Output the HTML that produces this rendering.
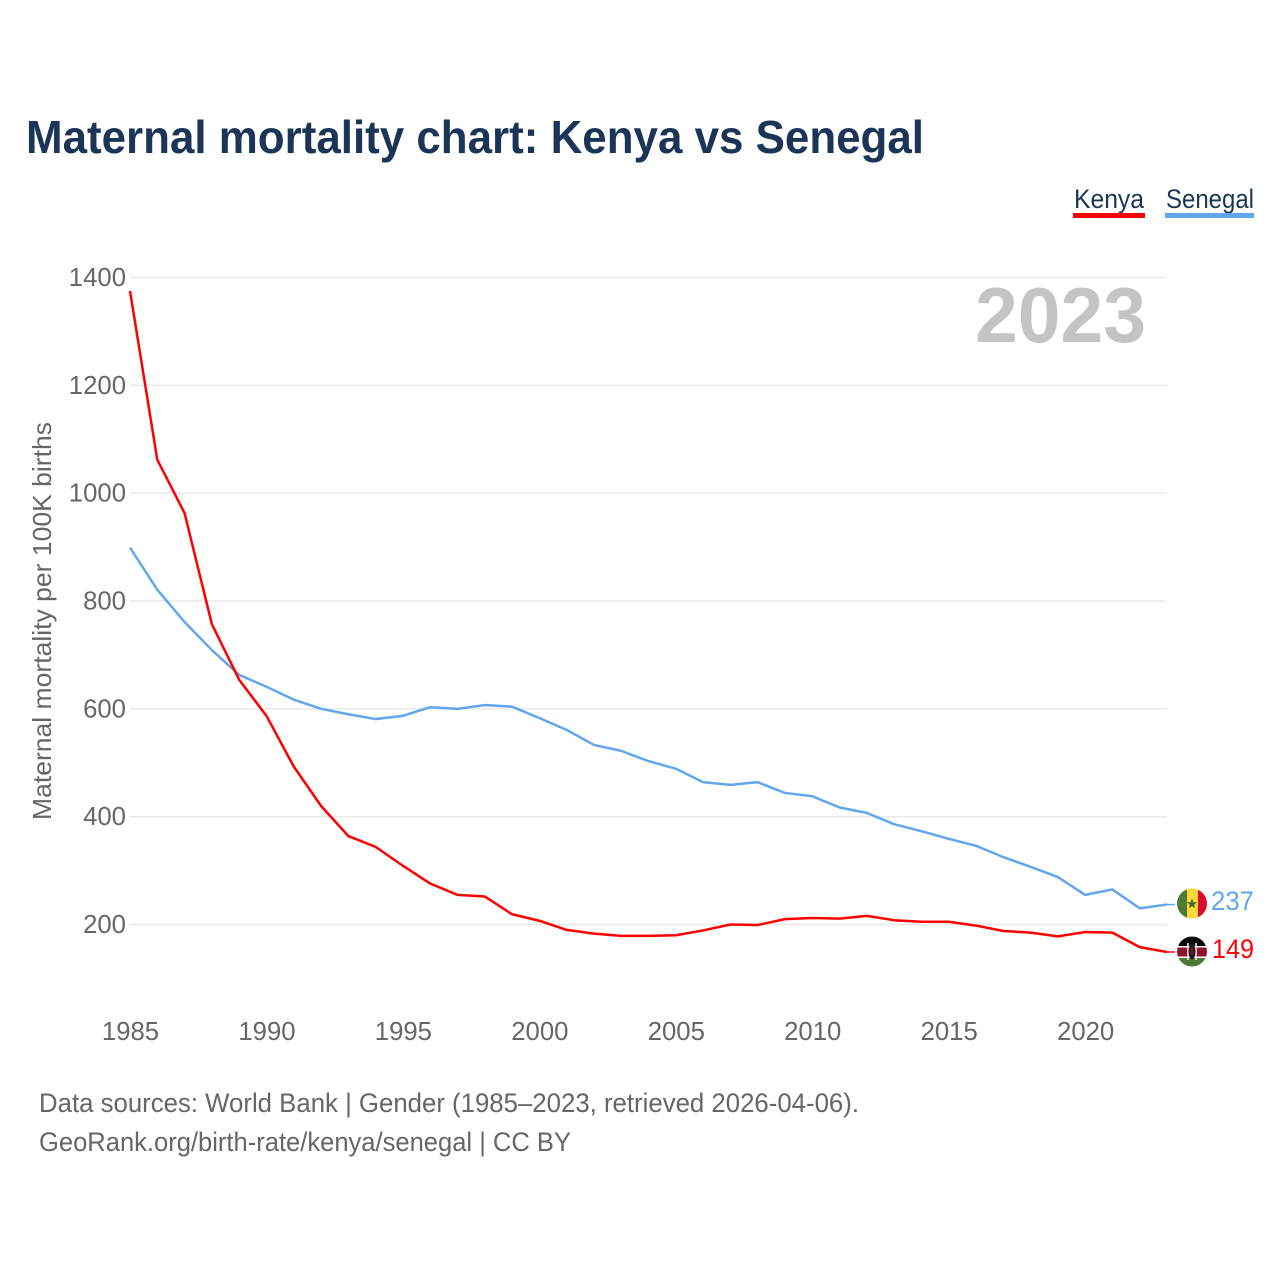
<!DOCTYPE html>
<html lang="en">
<head>
<meta charset="utf-8">
<title>Maternal mortality chart: Kenya vs Senegal</title>
<style>
html,body{margin:0;padding:0;background:#fff;}
svg{display:block;font-family:"Liberation Sans",Arial,sans-serif;}
</style>
</head>
<body>
<svg id="chart" xmlns="http://www.w3.org/2000/svg" width="1280" height="1280" viewBox="0 0 1280 1280">
  <rect x="0" y="0" width="1280" height="1280" fill="#fff"/>
  <text x="26" y="153" font-size="46" font-weight="700" fill="#1b3557" textLength="898" lengthAdjust="spacingAndGlyphs">Maternal mortality chart: Kenya vs Senegal</text>

  <g>
    <g>
      <text x="1074" y="208" font-size="27" fill="#1b3557" textLength="70" lengthAdjust="spacingAndGlyphs">Kenya</text>
      <rect x="1073" y="213" width="72" height="5" fill="#ff0000"/>
    </g>
    <g>
      <text x="1166" y="208" font-size="27" fill="#1b3557" textLength="88" lengthAdjust="spacingAndGlyphs">Senegal</text>
      <rect x="1165" y="213" width="89" height="5" fill="#62a6ee"/>
    </g>
  </g>

  <g id="grid"></g>
  <g id="yticks"></g>
  <g id="xticks"></g>

  <text transform="translate(51,820) rotate(-90)" x="0" y="0" font-size="26" fill="#666666" textLength="398" lengthAdjust="spacingAndGlyphs">Maternal mortality per 100K births</text>

  <text x="975" y="342" font-size="78" font-weight="700" fill="#c4c4c4" textLength="171" lengthAdjust="spacingAndGlyphs">2023</text>

  <g id="series"></g>

  <defs>
    <clipPath id="flag-clip-sn"><circle cx="1192" cy="903.5" r="15"/></clipPath>
    <clipPath id="flag-clip-ke"><circle cx="1192" cy="951.5" r="15"/></clipPath>
  </defs>
  <circle cx="1192" cy="903.5" r="15" fill="#fff"/>
  <g id="flag-senegal" clip-path="url(#flag-clip-sn)">
    <rect x="1177" y="888" width="10" height="31" fill="#4f7a32"/>
    <rect x="1187" y="888" width="11" height="31" fill="#fdd83a"/>
    <rect x="1198" y="888" width="9" height="31" fill="#d80f2f"/>
    <polygon points="1192,898.5 1193.4,902.2 1197.2,902.2 1194.1,904.6 1195.2,908.3 1192,906.1 1188.8,908.3 1189.9,904.6 1186.8,902.2 1190.6,902.2" fill="#3f6b2c"/>
  </g>
  <circle cx="1192" cy="951.5" r="15" fill="#fff"/>
  <g id="flag-kenya" clip-path="url(#flag-clip-ke)">
    <rect x="1177" y="936" width="30" height="10" fill="#0a0a0a"/>
    <rect x="1177" y="946" width="30" height="12" fill="#fff"/>
    <rect x="1177" y="947.5" width="30" height="9" fill="#8e1230"/>
    <rect x="1177" y="958" width="30" height="9" fill="#4c7a35"/>
    <rect x="1187.2" y="943" width="1.5" height="17" fill="#f2f2f2"/>
    <rect x="1195.3" y="943" width="1.5" height="17" fill="#f2f2f2"/>
    <ellipse cx="1192" cy="951.5" rx="3.4" ry="8" fill="#1a1a1a"/>
    <ellipse cx="1192" cy="951.5" rx="1.2" ry="4" fill="#8e1230"/>
  </g>

  <text id="value-senegal" x="1211" y="910" font-size="27" fill="#62a6ee" textLength="43" lengthAdjust="spacingAndGlyphs">237</text>
  <text id="value-kenya" x="1212" y="958" font-size="27" fill="#ff0000" textLength="42" lengthAdjust="spacingAndGlyphs">149</text>

  <g>
    <text x="39" y="1112" font-size="27" fill="#666666" textLength="820" lengthAdjust="spacingAndGlyphs">Data sources: World Bank | Gender (1985–2023, retrieved 2026-04-06).</text>
    <text x="39" y="1151" font-size="27" fill="#666666" textLength="532" lengthAdjust="spacingAndGlyphs">GeoRank.org/birth-rate/kenya/senegal | CC BY</text>
  </g>
</svg>
<script>
const years = [1985,1986,1987,1988,1989,1990,1991,1992,1993,1994,1995,1996,1997,1998,1999,2000,2001,2002,2003,2004,2005,2006,2007,2008,2009,2010,2011,2012,2013,2014,2015,2016,2017,2018,2019,2020,2021,2022,2023];
const kenya = [1375,1062,963,757,654,587,493,420,364,344,309,276,255,252,219,207,190,183,179,179,180,189,200,199,210,212,211,216,208,205,205,198,188,185,178,186,185,158,149];
const senegal = [899,821,761,709,663,641,617,600,590,581,587,603,600,607,604,583,561,533,522,503,489,464,459,464,444,438,417,407,386,373,359,346,325,307,288,255,265,230,237];
const yTickValues = [200,400,600,800,1000,1200,1400];
const xTickValues = [1985,1990,1995,2000,2005,2010,2015,2020];

const SVGNS = 'http://www.w3.org/2000/svg';
function xScale(year){ return 130 + (year - 1985) * (1167 - 130) / 38; }
function yScale(value){ return 924.5 - (value - 200) * (924.5 - 277.5) / 1200; }
function make(tag, attrs, parent){
  const el = document.createElementNS(SVGNS, tag);
  Object.keys(attrs).forEach(function(k){ el.setAttribute(k, attrs[k]); });
  parent.appendChild(el);
  return el;
}
const gridG = document.getElementById('grid');
const yG = document.getElementById('yticks');
const xG = document.getElementById('xticks');
const seriesG = document.getElementById('series');

yTickValues.forEach(function(v){
  const line = make('line', {x1:130, x2:1167, y1:yScale(v), y2:yScale(v), stroke:'#e9e9e9', 'stroke-width':1.5}, gridG);
  
  
  const label = String(v);
  const t = make('text', {x:126, y:yScale(v)+8.5, 'font-size':26, fill:'#666666', 'text-anchor':'end', textLength:label.length*14.3, lengthAdjust:'spacingAndGlyphs'}, yG);
  
  
  t.textContent = label;
});

xTickValues.forEach(function(v){
  const label = String(v);
  const t = make('text', {x:xScale(v)+0.5, y:1040, 'font-size':26, fill:'#666666', 'text-anchor':'middle', textLength:label.length*14.3, lengthAdjust:'spacingAndGlyphs'}, xG);
  
  
  t.textContent = label;
});

function drawSeries(values, color, name){
  const pts = values.map(function(v, i){ return xScale(years[i]).toFixed(2) + ',' + yScale(v).toFixed(2); }).join(' ');
  const line = make('polyline', {points:pts, fill:'none', stroke:color, 'stroke-width':2.5, 'stroke-linejoin':'round'}, seriesG);
  
  
  const lastY = yScale(values[values.length-1]);
  const conn = make('line', {x1:xScale(years[years.length-1]), x2:1175, y1:lastY, y2:lastY, stroke:color, 'stroke-width':1.5}, seriesG);
  
  
}
drawSeries(senegal, '#62a6ee', 'line-senegal');
drawSeries(kenya, '#ff0000', 'line-kenya');
document.getElementById('value-senegal').textContent = String(senegal[senegal.length-1]);
document.getElementById('value-kenya').textContent = String(kenya[kenya.length-1]);
</script>
</body>
</html>
